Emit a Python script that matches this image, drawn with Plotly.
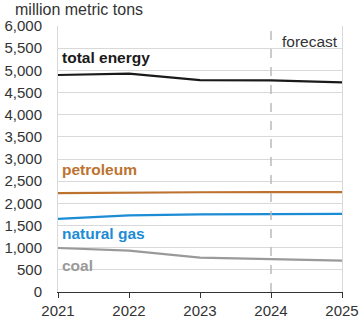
import plotly.graph_objects as go

years = [2021, 2022, 2023, 2024, 2025]
total_energy = [4895, 4925, 4780, 4775, 4730]
petroleum = [2230, 2245, 2250, 2255, 2255]
natural_gas = [1650, 1730, 1750, 1760, 1760]
coal = [992, 935, 775, 745, 706]

FONT = "Liberation Sans, Arial"

series = [
    ("total energy", total_energy, "#1a1a1a", 5280),
    ("petroleum", petroleum, "#BD7330", 2768),
    ("natural gas", natural_gas, "#1C8CD4", 1323),
    ("coal", coal, "#9a9a9a", 594),
]

fig = go.Figure()
for name, vals, color, ly in series:
    fig.add_trace(go.Scatter(x=years, y=vals, mode="lines", name=name,
                             line=dict(color=color, width=2.2), showlegend=False))
    fig.add_annotation(x=2021, y=ly, text="<b>%s</b>" % name, showarrow=False,
                       xanchor="left", yanchor="middle", xshift=2,
                       font=dict(color=color, size=15.5, family=FONT))

fig.add_shape(type="line", x0=2024, x1=2024, y0=0, y1=6000, xref="x", yref="y",
              line=dict(color="#bbbbbb", width=1.5, dash="dash"))
fig.add_annotation(x=2025, y=5646, text="forecast", showarrow=False,
                   xanchor="right", yanchor="middle", xshift=-2,
                   font=dict(color="#333333", size=15.5, family=FONT))
fig.add_annotation(x=0, y=1, xref="paper", yref="paper", xanchor="left", yanchor="bottom",
                   text="million metric tons", showarrow=False, xshift=-44, yshift=7,
                   borderpad=0,
                   font=dict(color="#333333", size=16, family=FONT))

fig.update_layout(
    width=359, height=321,
    margin=dict(l=58, r=17, t=26, b=29),
    paper_bgcolor="white", plot_bgcolor="white",
    font=dict(family=FONT, size=15, color="#333333"),
    xaxis=dict(range=[2021, 2025], tickvals=years, ticktext=[str(y) for y in years],
               showgrid=False, showline=True, linecolor="#333333", linewidth=1,
               ticks="outside", ticklen=5, tickcolor="#333333", zeroline=False,
               automargin=False, tickfont=dict(size=15)),
    yaxis=dict(range=[0, 6000], tickvals=list(range(0, 6001, 500)), tickformat=",",
               showgrid=True, gridcolor="#d9d9d9", gridwidth=1,
               showline=True, linecolor="#d9d9d9", mirror=True, zeroline=False,
               ticks="", ticklabelstandoff=12, automargin=False, tickfont=dict(size=15)),
)

fig.write_html("out.html", config={"displayModeBar": False},
               post_script="document.body.style.margin='0';document.body.style.overflow='hidden';")
